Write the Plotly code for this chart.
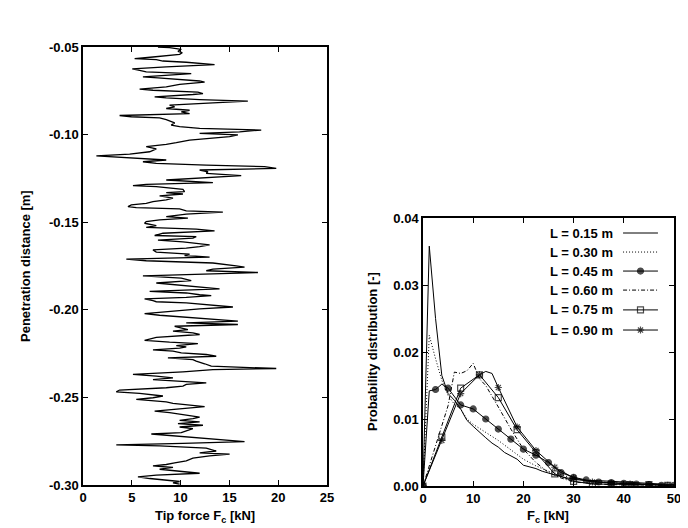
import plotly.graph_objects as go

# ---- left panel: tip force vs penetration distance ----
tip_force = [
    7.68, 8.87, 10.07, 9.73, 10.17, 9.90, 7.17, 5.29, 7.51, 8.19, 10.58, 13.48, 8.53, 5.05, 5.80,
    6.48, 11.09, 9.90, 7.17, 6.14, 7.68, 10.58, 11.95, 12.46, 9.90, 8.53, 5.80, 7.17, 9.56, 11.77,
    12.29, 11.26, 7.34, 8.53, 11.95, 16.89, 13.31, 8.87, 9.39, 8.53, 10.92, 10.07, 10.92, 3.75, 4.95,
    7.85, 8.53, 8.87, 9.39, 9.04, 9.90, 11.95, 18.26, 16.04, 11.95, 15.87, 15.02, 12.97, 10.92, 9.56,
    8.53, 6.48, 7.51, 6.83, 4.78, 1.37, 4.78, 8.53, 6.14, 7.51, 12.63, 18.60, 19.80, 11.95, 12.80,
    12.63, 16.21, 11.95, 8.53, 13.31, 6.48, 5.12, 7.51, 10.24, 10.41, 8.53, 10.24, 7.85, 9.22, 8.53,
    7.17, 6.48, 4.95, 4.61, 5.46, 9.90, 10.58, 14.33, 10.58, 8.53, 10.75, 7.85, 6.48, 6.31, 7.51,
    6.48, 11.60, 13.48, 8.19, 7.34, 11.60, 11.26, 7.68, 10.24, 12.97, 11.95, 10.58, 7.17, 7.51, 10.92,
    10.41, 12.97, 4.44, 6.48, 13.31, 15.70, 16.55, 13.31, 12.63, 17.92, 9.22,
    6.14, 10.07, 11.09, 7.51, 9.22, 11.43, 13.99, 6.83, 10.58, 11.95, 13.14, 10.58, 6.31, 7.17, 7.51,
    10.58, 13.31, 15.36, 11.95, 9.22, 6.31, 7.85, 11.26, 13.99, 15.87, 10.58, 15.87, 9.39, 10.07, 10.75,
    9.22, 11.26, 11.95, 7.51, 6.31, 8.87, 11.77, 9.56, 10.58, 9.90, 7.17, 9.22, 10.07, 12.63, 13.65,
    8.70, 11.26, 11.60, 12.46, 13.14, 19.80, 13.31, 10.24, 5.12, 7.51, 9.22, 7.17, 9.90, 12.63, 10.58,
    10.24, 8.53, 3.75, 3.41, 5.80, 8.19, 7.17, 5.46, 6.48, 8.53, 9.22, 10.92, 12.46, 9.90, 7.34,
    8.87, 10.75, 11.95, 11.26, 9.90, 11.95, 9.73, 12.29, 9.90, 11.26, 10.58, 10.07, 7.00, 9.22, 11.95,
    14.68, 16.55, 10.24, 3.41, 7.85, 12.63, 13.65, 11.95, 15.02, 12.97, 11.26, 10.58, 9.39, 8.53, 7.17,
    9.22, 7.85, 9.90, 11.95, 7.51, 5.63, 6.83, 8.53, 9.90, 9.22, 9.90,
]
depth = [
    -0.0500, -0.0504, -0.0513, -0.0525, -0.0532, -0.0542, -0.0557, -0.0566, -0.0572, -0.0580, -0.0587,
    -0.0601, -0.0614, -0.0625, -0.0633, -0.0642, -0.0652, -0.0657, -0.0665, -0.0671, -0.0676, -0.0686,
    -0.0694, -0.0701, -0.0713, -0.0728, -0.0741, -0.0747, -0.0754, -0.0758, -0.0766, -0.0771, -0.0785,
    -0.0790, -0.0800, -0.0809, -0.0819, -0.0832, -0.0842, -0.0851, -0.0861, -0.0870, -0.0880, -0.0891,
    -0.0898, -0.0904, -0.0914, -0.0923, -0.0933, -0.0946, -0.0955, -0.0965, -0.0974, -0.0984, -0.0993,
    -0.1001, -0.1012, -0.1022, -0.1031, -0.1046, -0.1056, -0.1069, -0.1081, -0.1098, -0.1111, -0.1121,
    -0.1132, -0.1145, -0.1155, -0.1164, -0.1174, -0.1183, -0.1193, -0.1202, -0.1212, -0.1221, -0.1234,
    -0.1246, -0.1259, -0.1274, -0.1284, -0.1291, -0.1297, -0.1312, -0.1325, -0.1331, -0.1339, -0.1350,
    -0.1363, -0.1373, -0.1382, -0.1392, -0.1401, -0.1411, -0.1417, -0.1424, -0.1435, -0.1443, -0.1454,
    -0.1468, -0.1477, -0.1487, -0.1496, -0.1506, -0.1519, -0.1530, -0.1540, -0.1549, -0.1563, -0.1576,
    -0.1582, -0.1591, -0.1602, -0.1612, -0.1629, -0.1639, -0.1648, -0.1658, -0.1671, -0.1682, -0.1690,
    -0.1699, -0.1711, -0.1720, -0.1733, -0.1749, -0.1756, -0.1768, -0.1777, -0.1787, -0.1800,
    -0.1806, -0.1819, -0.1834, -0.1847, -0.1857, -0.1866, -0.1881, -0.1895, -0.1904, -0.1914, -0.1919,
    -0.1929, -0.1938, -0.1948, -0.1954, -0.1961, -0.1972, -0.1984, -0.1995, -0.2009, -0.2022, -0.2031,
    -0.2047, -0.2056, -0.2065, -0.2075, -0.2084, -0.2094, -0.2103, -0.2113, -0.2122, -0.2132, -0.2141,
    -0.2157, -0.2174, -0.2185, -0.2193, -0.2204, -0.2212, -0.2219, -0.2229, -0.2236, -0.2246, -0.2255,
    -0.2265, -0.2274, -0.2284, -0.2293, -0.2308, -0.2322, -0.2335, -0.2342, -0.2354, -0.2369, -0.2379,
    -0.2388, -0.2398, -0.2407, -0.2417, -0.2426, -0.2436, -0.2445, -0.2458, -0.2468, -0.2477, -0.2492,
    -0.2502, -0.2511, -0.2517, -0.2525, -0.2534, -0.2544, -0.2553, -0.2565, -0.2578, -0.2587, -0.2601,
    -0.2612, -0.2621, -0.2631, -0.2640, -0.2650, -0.2659, -0.2669, -0.2678, -0.2692, -0.2701, -0.2709,
    -0.2720, -0.2730, -0.2743, -0.2752, -0.2762, -0.2771, -0.2777, -0.2790, -0.2806, -0.2817, -0.2824,
    -0.2834, -0.2847, -0.2862, -0.2874, -0.2883, -0.2891, -0.2900, -0.2910, -0.2921, -0.2933, -0.2944,
    -0.2954, -0.2963, -0.2972, -0.2980, -0.2988, -0.2995,
]

# ---- right panel: probability distribution of Fc for different lengths L ----
fc_015 = [0, 1.25, 2.5, 3.75, 5, 6.25, 7.5, 8.75, 10, 11.25, 12.5, 13.75, 15, 16.25, 17.5, 18.75,
          20, 21.25, 22.5, 23.75, 25, 27.5, 30, 32.5, 35, 37.5, 40, 42.5, 45, 47.5, 50]
p_015 = [0, 0.0358, 0.0250, 0.0165, 0.0138, 0.0128, 0.0115, 0.0098, 0.0089, 0.0080, 0.0072, 0.0064,
         0.0058, 0.0050, 0.0045, 0.0040, 0.0031, 0.0029, 0.0026, 0.0022, 0.0019, 0.0014, 0.0010,
         0.0008, 0.0008, 0.0007, 0.0006, 0.0006, 0.0005, 0.0003, 0.0002]

fc_030 = [0, 1.25, 2.5, 3.75, 5, 6.25, 7.5, 8.75, 10, 12.5, 15, 17.5, 20, 22.5, 25, 27.5, 30,
          32.5, 35, 37.5, 40, 42.5, 45, 47.5, 50]
p_030 = [0, 0.0225, 0.0190, 0.0158, 0.0135, 0.0122, 0.0115, 0.0100, 0.0092, 0.0080, 0.0068, 0.0054,
         0.0040, 0.0030, 0.0022, 0.0017, 0.0011, 0.0008, 0.0006, 0.0005, 0.0004, 0.0003, 0.0002,
         0.0002, 0.0001]

fc_045 = [0, 1.25, 2.5, 3.75, 5, 7.5, 10, 12.5, 15, 17.5, 20, 22.5, 25, 27.5, 30, 32.5, 35, 37.5,
          40, 42.5, 45, 47.5, 50]
p_045 = [0, 0.0142, 0.0144, 0.0152, 0.0146, 0.0121, 0.0115, 0.0100, 0.0085, 0.0070, 0.0055, 0.0046,
         0.0035, 0.0020, 0.0013, 0.0009, 0.0006, 0.0005, 0.0004, 0.0003, 0.0002, 0.0001, 0.0001]

fc_060 = [0, 2.5, 5, 6.25, 7.5, 8.75, 10, 11.25, 12.5, 15, 17.5, 20, 22.5, 25, 27.5, 30, 32.5, 35,
          37.5, 40, 42.5, 45, 47.5, 50]
p_060 = [0, 0.0060, 0.0120, 0.0170, 0.0168, 0.0172, 0.0183, 0.0160, 0.0150, 0.0118, 0.0085, 0.0055,
         0.0035, 0.0020, 0.0012, 0.0006, 0.0004, 0.0003, 0.0002, 0.0002, 0.0001, 0.0001, 0.0001, 0.0]

fc_075 = [0, 3.75, 7.5, 11.25, 15, 18.75, 22.5, 26.25, 30, 33.75, 37.5, 41.25, 45, 48.75]
p_075 = [0, 0.0073, 0.0146, 0.0166, 0.0132, 0.0084, 0.0050, 0.0018, 0.0007, 0.0003, 0.0003, 0.0002,
         0.0002, 0.0001]

fc_090 = [0, 3.75, 7.5, 11.25, 12.5, 13.75, 15, 18.75, 22.5, 26.25, 30, 33.75, 37.5, 41.25, 45, 48.75]
p_090 = [0, 0.0068, 0.0138, 0.0166, 0.0171, 0.0168, 0.0147, 0.0088, 0.0053, 0.0028, 0.0012, 0.0006,
         0.0004, 0.0003, 0.0002, 0.0001]

labels = ["L = 0.15 m", "L = 0.30 m", "L = 0.45 m", "L = 0.60 m", "L = 0.75 m", "L = 0.90 m"]

FONT = "Liberation Sans, Arial, sans-serif"

# the page has an 8px body margin: the figure starts at (8, 8) in the window
W, H, OFF = 680, 520, 8


def fx(X):
    # window pixel -> paper x
    return (X - OFF) / W


def fy(Y):
    # window pixel -> paper y
    return 1 - (Y - OFF) / H


def marked(xs, step, size):
    # gnuplot-style: only put a symbol on every 'step' kN
    return [size if abs(x / step - round(x / step)) < 1e-6 else 0 for x in xs]


styles = [
    dict(x=fc_015, y=p_015, dash="solid", symbol=None, step=None),
    dict(x=fc_030, y=p_030, dash="1px,2px", symbol=None, step=None),
    dict(x=fc_045, y=p_045, dash="solid", symbol="circle", step=2.5),
    dict(x=fc_060, y=p_060, dash="4px,2px,1px,2px", symbol=None, step=None),
    dict(x=fc_075, y=p_075, dash="solid", symbol="square-open", step=3.75),
    dict(x=fc_090, y=p_090, dash="solid", symbol="asterisk-open", step=3.75),
]

fig = go.Figure()

fig.add_trace(go.Scatter(
    x=tip_force, y=depth, mode="lines",
    line=dict(color="black", width=1.3),
    xaxis="x", yaxis="y", showlegend=False,
))

for s in styles:
    mode = "lines+markers" if s["symbol"] else "lines"
    tr = dict(x=s["x"], y=s["y"], mode=mode,
              line=dict(color="black", width=1, dash=s["dash"]),
              xaxis="x2", yaxis="y2", showlegend=False)
    if s["symbol"]:
        tr["marker"] = dict(symbol=s["symbol"], color="black",
                            size=marked(s["x"], s["step"], 6),
                            line=dict(color="black", width=1.2))
    fig.add_trace(go.Scatter(**tr))

# hand made legend (text on the left, sample on the right like gnuplot)
leg_y = [0.944, 0.873, 0.802, 0.731, 0.657, 0.582]
for s, lab, yy in zip(styles, labels, leg_y):
    tr = dict(x=[0.797, 0.8665, 0.936], y=[yy, yy, yy],
              mode="lines+markers" if s["symbol"] else "lines",
              line=dict(color="black", width=1, dash=s["dash"]),
              xaxis="x3", yaxis="y3", showlegend=False, hoverinfo="skip")
    if s["symbol"]:
        tr["marker"] = dict(symbol=s["symbol"], color="black", size=[0, 6, 0],
                            line=dict(color="black", width=1.2))
    fig.add_trace(go.Scatter(**tr))
    fig.add_annotation(x=0.765, y=yy, xref="x3", yref="y3", text=lab, showarrow=False,
                       xanchor="right", yanchor="middle",
                       font=dict(family=FONT, size=13, color="black", weight="bold"))

axis_common = dict(
    showgrid=False, zeroline=False, showline=True, linecolor="black", linewidth=1.5,
    mirror="ticks", ticks="inside", ticklen=5, tickwidth=1, tickcolor="black", automargin=False,
    tickfont=dict(family=FONT, size=13, color="black", weight="bold"),
)

left_y_ticks = [-0.30, -0.25, -0.20, -0.15, -0.10, -0.05]
right_y_ticks = [0.0, 0.01, 0.02, 0.03, 0.04]

fig.update_layout(
    width=W, height=H,
    margin=dict(l=0, r=0, t=0, b=0),
    paper_bgcolor="white", plot_bgcolor="white",
    xaxis=dict(axis_common, domain=[fx(83), fx(327)], range=[0, 25], dtick=5, anchor="y"),
    yaxis=dict(axis_common, domain=[fy(485), fy(47)], range=[-0.30, -0.05],
               tickvals=left_y_ticks, ticktext=["%.2f" % v for v in left_y_ticks], anchor="x"),
    xaxis2=dict(axis_common, domain=[fx(423), fx(674)], range=[0, 50], dtick=10, anchor="y2"),
    yaxis2=dict(axis_common, domain=[fy(486), fy(218)], range=[0, 0.04],
                tickvals=right_y_ticks, ticktext=["%.2f" % v for v in right_y_ticks], anchor="x2"),
    xaxis3=dict(overlaying="x2", range=[0, 1], visible=False, anchor="y3", automargin=False),
    yaxis3=dict(overlaying="y2", range=[0, 1], visible=False, anchor="x3", automargin=False),
)

title_font = dict(family=FONT, size=13, color="black", weight="bold")
fig.add_annotation(x=fx(205), y=fy(516), xref="paper", yref="paper",
                   text="Tip force F<sub>c</sub> [kN]", showarrow=False,
                   xanchor="center", yanchor="middle", font=title_font)
fig.add_annotation(x=fx(25), y=fy(266), xref="paper", yref="paper",
                   text="Penetration distance [m]", textangle=-90, showarrow=False,
                   xanchor="center", yanchor="middle", font=title_font)
fig.add_annotation(x=fx(548), y=fy(516), xref="paper", yref="paper",
                   text="F<sub>c</sub> [kN]", showarrow=False,
                   xanchor="center", yanchor="middle", font=title_font)
fig.add_annotation(x=fx(372), y=fy(352), xref="paper", yref="paper",
                   text="Probability distribution [-]", textangle=-90, showarrow=False,
                   xanchor="center", yanchor="middle", font=title_font)

fig.write_html("out.html")
